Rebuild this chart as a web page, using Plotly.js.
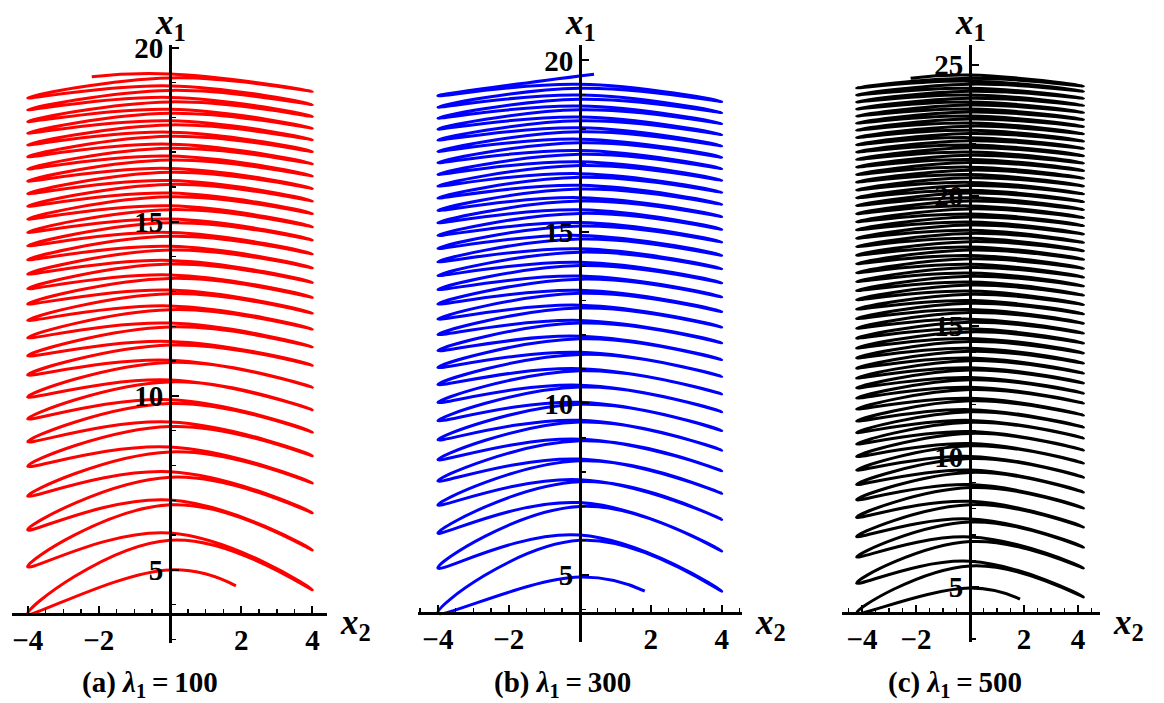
<!DOCTYPE html>
<html>
<head>
<meta charset="utf-8">
<script src="https://cdn.plot.ly/plotly-3.0.1.min.js"></script>
<style>html,body{margin:0;padding:0;background:#fff;}#chart{width:1164px;height:703px;}</style>
</head>
<body>
<div id="chart"></div>
<script>
// ---------- data ----------
// Panel (a) lambda1 = 100
const aStart = [1.85, 4.54, 5.0];          // start x2, start x1, crest of first (leftward) arc
const aLeftTurns = [3.74, 5.09, 6.15, 7.12, 7.98, 8.68, 9.34, 9.97, 10.6, 11.15, 11.67, 12.17, 12.64, 13.08, 13.5, 13.91, 14.31, 14.7, 15.08, 15.45, 15.81, 16.17, 16.52, 16.87, 17.21, 17.55, 17.88, 18.22, 18.56];
const aRightTurns = [4.43, 5.57, 6.64, 7.5, 8.28, 8.96, 9.6, 10.25, 10.88, 11.41, 11.92, 12.38, 12.83, 13.26, 13.68, 14.08, 14.48, 14.86, 15.24, 15.6, 15.96, 16.32, 16.67, 17.02, 17.36, 17.69, 18.03, 18.37, 18.75];
const aRiseUp = [1.77, 1.54, 1.27, 1.08, 0.99, 0.96, 0.93, 0.85, 0.72, 0.7, 0.68, 0.66, 0.64, 0.62, 0.6, 0.59, 0.58, 0.57, 0.56, 0.55, 0.54, 0.53, 0.52, 0.51, 0.5, 0.5, 0.49, 0.48, 0.48];
const aRiseDown = [1.3, 1.15, 0.94, 0.79, 0.77, 0.74, 0.67, 0.6, 0.55, 0.55, 0.54, 0.53, 0.52, 0.51, 0.5, 0.5, 0.49, 0.49, 0.48, 0.48, 0.47, 0.47, 0.46, 0.46, 0.45, 0.45, 0.45, 0.44];
const aEnd = [[0, 19.25], [-2.2, 19.17]];

// Panel (b) lambda1 = 300
const bStart = [1.83, 4.53, 4.94];
const bLeftTurns = [3.89, 5.2, 6.22, 7.04, 7.74, 8.36, 8.94, 9.5, 10.03, 10.55, 11.05, 11.54, 12.01, 12.46, 12.9, 13.32, 13.73, 14.13, 14.52, 14.9, 15.27, 15.63, 15.99, 16.34, 16.68, 17.02, 17.35, 17.68, 18.0, 18.32, 18.64, 18.97];
const bRightTurns = [4.53, 5.7, 6.62, 7.38, 8.04, 8.64, 9.21, 9.76, 10.28, 10.79, 11.28, 11.77, 12.23, 12.68, 13.11, 13.52, 13.93, 14.32, 14.71, 15.08, 15.45, 15.81, 16.16, 16.51, 16.85, 17.18, 17.51, 17.84, 18.16, 18.48, 18.8];
const bRiseUp = [1.8, 1.55, 1.3, 1.12, 1.02, 0.96, 0.9, 0.85, 0.8, 0.76, 0.72, 0.69, 0.66, 0.64, 0.62, 0.6, 0.58, 0.57, 0.56, 0.55, 0.54, 0.53, 0.52, 0.51, 0.5, 0.5, 0.49, 0.48, 0.48, 0.47, 0.47];
const bRiseDown = [1.3, 1.15, 0.95, 0.82, 0.76, 0.72, 0.68, 0.64, 0.6, 0.57, 0.55, 0.53, 0.52, 0.51, 0.5, 0.49, 0.48, 0.48, 0.47, 0.47, 0.46, 0.46, 0.45, 0.45, 0.44, 0.44, 0.44, 0.43, 0.43, 0.43, 0.42];
const bEnd = [[0.4, 19.6]];

// Panel (c) lambda1 = 500
const cStart = [1.85, 4.54, 4.96];
const cLeftTurns = [4.0, 5.15, 6.15, 6.93, 7.67, 8.34, 8.93, 9.48, 10.0, 10.48, 10.92, 11.36, 11.82, 12.24, 12.63, 13.01, 13.39, 13.78, 14.16, 14.54, 14.92, 15.29, 15.65, 16.01, 16.36, 16.71, 17.05, 17.39, 17.72, 18.05, 18.37, 18.69, 19.0, 19.31, 19.62, 19.92, 20.22, 20.52, 20.81, 21.1, 21.39, 21.67, 21.95, 22.23, 22.51, 22.78, 23.05, 23.32, 23.59, 23.86, 24.13];
const cRightTurns = [4.62, 5.73, 6.53, 7.3, 8.03, 8.64, 9.21, 9.75, 10.25, 10.71, 11.13, 11.59, 12.05, 12.43, 12.82, 13.2, 13.58, 13.97, 14.35, 14.73, 15.11, 15.47, 15.83, 16.19, 16.54, 16.88, 17.22, 17.56, 17.89, 18.21, 18.53, 18.85, 19.16, 19.47, 19.77, 20.07, 20.37, 20.67, 20.96, 21.25, 21.53, 21.81, 22.09, 22.37, 22.65, 22.92, 23.19, 23.46, 23.73, 24.0, 24.2];
const cRiseUp = [1.5, 1.3, 1.15, 1.04, 0.96, 0.9, 0.85, 0.8, 0.76, 0.72, 0.69, 0.66, 0.63, 0.61, 0.59, 0.57, 0.55, 0.53, 0.52, 0.51, 0.5, 0.49, 0.48, 0.47, 0.46, 0.45, 0.44, 0.44, 0.43, 0.42, 0.42, 0.41, 0.41, 0.4, 0.4, 0.39, 0.39, 0.38, 0.38, 0.37, 0.37, 0.36, 0.36, 0.36, 0.35, 0.35, 0.35, 0.34, 0.34, 0.34, 0.33];
const cRiseDown = [1.1, 0.98, 0.88, 0.8, 0.74, 0.7, 0.66, 0.62, 0.59, 0.57, 0.55, 0.53, 0.51, 0.5, 0.49, 0.48, 0.47, 0.46, 0.45, 0.44, 0.43, 0.42, 0.42, 0.41, 0.41, 0.4, 0.4, 0.39, 0.39, 0.38, 0.38, 0.37, 0.37, 0.37, 0.36, 0.36, 0.36, 0.35, 0.35, 0.35, 0.34, 0.34, 0.34, 0.34, 0.33, 0.33, 0.33, 0.33, 0.32, 0.32];
const cEnd = [[0, 24.62], [-2.2, 24.5]];

const xTickVals = [-4, -2, 2, 4];
const xTickText = ['\u22124', '\u22122', '2', '4'];
const aYTicks = [5, 10, 15, 20];
const bYTicks = [5, 10, 15, 20];
const cYTicks = [5, 10, 15, 20, 25];
const captions = ['(a)', '(b)', '(c)'];
const lambdas = ['100', '300', '500'];

// ---------- build trajectory (turning points + arc crests, smoothed by plotly spline) ----------
function buildPath(start, L, R, up, down, end, amp) {
  const xs = [start[0], 0, -amp];
  const ys = [start[1], start[2], L[0]];
  for (let i = 0; i < R.length; i++) {
    xs.push(0, amp);
    ys.push((L[i] + R[i]) / 2 + up[i], R[i]);
    if (i < down.length) {
      xs.push(0, -amp);
      ys.push((R[i] + L[i + 1]) / 2 + down[i], L[i + 1]);
    }
  }
  end.forEach(p => { xs.push(p[0]); ys.push(p[1]); });
  return {x: xs, y: ys};
}

const W = 1164, H = 703;
const px = v => v / W;
const py = v => 1 - v / H;

const pa = buildPath(aStart, aLeftTurns, aRightTurns, aRiseUp, aRiseDown, aEnd, 4.0);
const pb = buildPath(bStart, bLeftTurns, bRightTurns, bRiseUp, bRiseDown, bEnd, 4.0);
const pc = buildPath(cStart, cLeftTurns, cRightTurns, cRiseUp, cRiseDown, cEnd, 4.2);

function tr(p, color, xa, ya) {
  return {x: p.x, y: p.y, xaxis: xa, yaxis: ya, type: 'scatter', mode: 'lines',
    hoverinfo: 'skip',
    line: {color: color, width: 3, shape: 'spline', smoothing: 1.3, simplify: false}};
}

const data = [
  tr(pa, '#ff0000', 'x', 'y'),
  tr(pb, '#0000ff', 'x2', 'y2'),
  tr(pc, '#000000', 'x3', 'y3')
];

const SERIF = 'Liberation Serif';
const tickFont = {family: SERIF, size: 29, color: '#000'};
const bold = s => '<b>' + s + '</b>';

function xAxis(domainPx, range, posY) {
  return {domain: [px(domainPx[0]), px(domainPx[1])], range: range, anchor: 'free', position: py(posY),
    showline: true, linecolor: '#000', linewidth: 2.5, showgrid: false, zeroline: false,
    ticks: 'inside', ticklen: 7, tickwidth: 2, tickcolor: '#000',
    tickmode: 'array', tickvals: xTickVals, ticktext: xTickText.map(bold), tickfont: tickFont,
    minor: {dtick: 0.5, tick0: 0, ticks: 'inside', ticklen: 4, tickwidth: 1.5, tickcolor: '#000', showgrid: false},
    fixedrange: true, layer: 'above traces'};
}
function yAxis(domainPx, range, posX, ticks, layer) {
  return {domain: [py(domainPx[1]), py(domainPx[0])], range: range, anchor: 'free', position: px(posX), side: 'left',
    showline: true, linecolor: '#000', linewidth: 2.5, showgrid: false, zeroline: false,
    ticks: 'inside', ticklen: 7, tickwidth: 2, tickcolor: '#000',
    tickmode: 'array', tickvals: ticks, ticktext: ticks.map(v => bold(String(v))), tickfont: tickFont,
    minor: {dtick: 1, tick0: 0, ticks: 'inside', ticklen: 4, tickwidth: 1.5, tickcolor: '#000', showgrid: false},
    fixedrange: true, layer: layer};
}

const titleFont = {family: SERIF, size: 35, color: '#000'};
const capFont = {family: SERIF, size: 29, color: '#000'};

function ann(text, x, y, font) {
  return {text: text, xref: 'paper', yref: 'paper', x: px(x), y: py(y), xanchor: 'center', yanchor: 'middle',
    showarrow: false, font: font, borderpad: 0};
}
const x1t = '<b><i>x</i></b><sub><b>1</b></sub>';
const x2t = '<b><i>x</i></b><sub><b>2</b></sub>';
function cap(i) {
  return '<b>' + captions[i] + ' </b><b><i>\u03bb</i></b><sub><b>1</b></sub><b>\u2009=\u2009' + lambdas[i] + '</b>';
}

const layout = {
  width: W, height: H, margin: {l: 0, r: 0, t: 0, b: 0},
  paper_bgcolor: '#fff', plot_bgcolor: 'rgba(0,0,0,0)', showlegend: false,
  font: {family: SERIF, size: 24, color: '#000'},
  xaxis: xAxis([12, 327], [-4.44, 4.41], 614),
  yaxis: yAxis([45, 643], [2.9, 20.08], 170, aYTicks, 'above traces'),
  xaxis2: xAxis([418, 742], [-4.56, 4.57], 613),
  yaxis2: yAxis([45, 642], [3.047, 20.45], 580, bYTicks, 'above traces'),
  xaxis3: xAxis([842, 1100], [-4.74, 4.81], 613),
  yaxis3: yAxis([45, 642], [2.893, 25.77], 970, cYTicks, 'below traces'),
  annotations: [
    ann(x1t, 170, 25, titleFont), ann(x1t, 580, 25, titleFont), ann(x1t, 970, 25, titleFont),
    ann(x2t, 355, 624, titleFont), ann(x2t, 770, 624, titleFont), ann(x2t, 1128, 624, titleFont),
    ann(cap(0), 150, 684, capFont), ann(cap(1), 562, 684, capFont), ann(cap(2), 955, 684, capFont)
  ]
};

Plotly.newPlot('chart', data, layout, {staticPlot: true, displayModeBar: false});
</script>
</body>
</html>
